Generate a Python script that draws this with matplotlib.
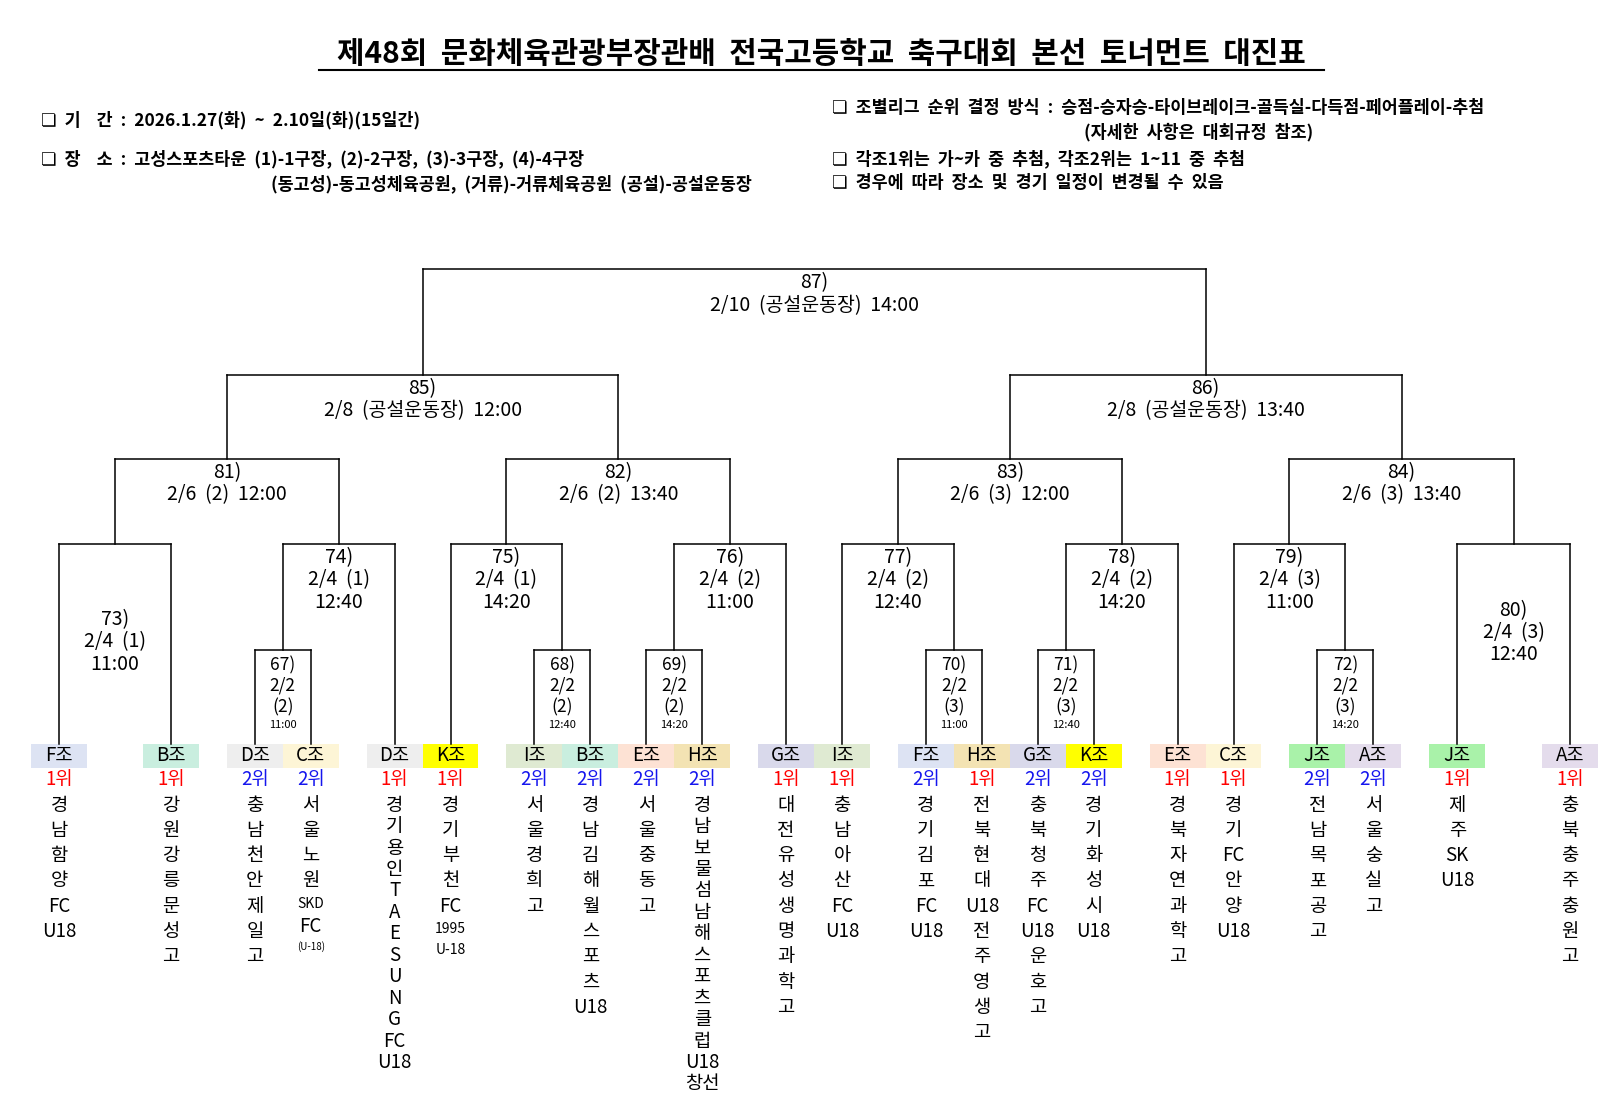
import matplotlib
matplotlib.use("Agg")
import matplotlib.pyplot as plt
from matplotlib.patches import Rectangle

plt.rcParams['font.family'] = ['Noto Sans CJK KR', 'DejaVu Sans']

title = "제48회  문화체육관광부장관배  전국고등학교  축구대회  본선  토너먼트  대진표"
info_left = ["❏  기    간  :  2026.1.27(화)  ~  2.10일(화)(15일간)",
             "❏  장    소  :  고성스포츠타운  (1)-1구장,  (2)-2구장,  (3)-3구장,  (4)-4구장",
             "(동고성)-동고성체육공원,  (거류)-거류체육공원  (공설)-공설운동장"]
info_right = ["❏  조별리그  순위  결정  방식  :  승점-승자승-타이브레이크-골득실-다득점-페어플레이-추첨",
              "(자세한  사항은  대회규정  참조)",
              "❏  각조1위는  가~카  중  추첨,  각조2위는  1~11  중  추첨",
              "❏  경우에  따라  장소  및  경기  일정이  변경될  수  있음"]

groups = ['F','B','D','C','D','K','I','B','E','H','G','I','F','H','G','K','E','C','J','A','J','A']
ranks = [1,1,2,2,1,1,2,2,2,2,1,1,2,1,2,2,1,1,2,2,1,1]
names = [
    ['경','남','함','양','FC','U18'],
    ['강','원','강','릉','문','성','고'],
    ['충','남','천','안','제','일','고'],
    ['서','울','노','원','SKD','FC','(U-18)'],
    ['경','기','용','인','T','A','E','S','U','N','G','FC','U18'],
    ['경','기','부','천','FC','1995','U-18'],
    ['서','울','경','희','고'],
    ['경','남','김','해','월','스','포','츠','U18'],
    ['서','울','중','동','고'],
    ['경','남','보','물','섬','남','해','스','포','츠','클','럽','U18','창선'],
    ['대','전','유','성','생','명','과','학','고'],
    ['충','남','아','산','FC','U18'],
    ['경','기','김','포','FC','U18'],
    ['전','북','현','대','U18','전','주','영','생','고'],
    ['충','북','청','주','FC','U18','운','호','고'],
    ['경','기','화','성','시','U18'],
    ['경','북','자','연','과','학','고'],
    ['경','기','FC','안','양','U18'],
    ['전','남','목','포','공','고'],
    ['서','울','숭','실','고'],
    ['제','주','SK','U18'],
    ['충','북','충','주','충','원','고'],
]
group_colors = {'F':'#dde3f3','B':'#c9eedf','D':'#eeeeee','C':'#fdf5d6','K':'#ffff00',
                'I':'#dfead2','E':'#fde2d4','H':'#f3e3b3','G':'#d9d9eb','J':'#a9f2a9','A':'#e4dcec'}

match_children = {
    67: [('L',2),('L',3)], 68: [('L',6),('L',7)], 69: [('L',8),('L',9)],
    70: [('L',12),('L',13)], 71: [('L',14),('L',15)], 72: [('L',18),('L',19)],
    73: [('L',0),('L',1)], 74: [('M',67),('L',4)], 75: [('L',5),('M',68)],
    76: [('M',69),('L',10)], 77: [('L',11),('M',70)], 78: [('M',71),('L',16)],
    79: [('L',17),('M',72)], 80: [('L',20),('L',21)],
    81: [('M',73),('M',74)], 82: [('M',75),('M',76)], 83: [('M',77),('M',78)], 84: [('M',79),('M',80)],
    85: [('M',81),('M',82)], 86: [('M',83),('M',84)], 87: [('M',85),('M',86)],
}
match_info = {
    67: ['2/2','(2)','11:00'], 68: ['2/2','(2)','12:40'], 69: ['2/2','(2)','14:20'],
    70: ['2/2','(3)','11:00'], 71: ['2/2','(3)','12:40'], 72: ['2/2','(3)','14:20'],
    73: ['2/4  (1)','11:00'], 74: ['2/4  (1)','12:40'], 75: ['2/4  (1)','14:20'], 76: ['2/4  (2)','11:00'],
    77: ['2/4  (2)','12:40'], 78: ['2/4  (2)','14:20'], 79: ['2/4  (3)','11:00'], 80: ['2/4  (3)','12:40'],
    81: ['2/6  (2)  12:00'], 82: ['2/6  (2)  13:40'], 83: ['2/6  (3)  12:00'], 84: ['2/6  (3)  13:40'],
    85: ['2/8  (공설운동장)  12:00'], 86: ['2/8  (공설운동장)  13:40'],
    87: ['2/10  (공설운동장)  14:00'],
}

W, H = 1568, 1077
leaf_x = [57,165,246,300,381,435,516,570,624,678,759,813,894,948,1002,1056,1137,1191,1272,1326,1407,1516]
def level_top(m):
    if m <= 72: return 627
    if m <= 80: return 525
    if m <= 84: return 443
    if m <= 86: return 362
    return 260
BOX_TOP = 718

fig = plt.figure(figsize=(16.24, 11.16), dpi=100)
ax = fig.add_axes([0, 0, 1, 1])
ax.set_xlim(0, W); ax.set_ylim(H, 0); ax.axis('off')

ax.text(793, 52, title, ha='center', va='center', fontsize=21.5, fontweight='bold')
ax.plot([308, 1278], [68, 68], color='black', lw=1.5)

fs_info = 12.5
ax.text(40, 116, info_left[0], ha='left', va='center', fontsize=fs_info, fontweight='bold')
ax.text(40, 153, info_left[1], ha='left', va='center', fontsize=fs_info, fontweight='bold')
ax.text(262, 177, info_left[2], ha='left', va='center', fontsize=fs_info, fontweight='bold')
ax.text(803, 104, info_right[0], ha='left', va='center', fontsize=fs_info, fontweight='bold')
ax.text(1047, 128, info_right[1], ha='left', va='center', fontsize=fs_info, fontweight='bold')
ax.text(803, 153, info_right[2], ha='left', va='center', fontsize=fs_info, fontweight='bold')
ax.text(803, 177, info_right[3], ha='left', va='center', fontsize=fs_info, fontweight='bold')

lw = 1.1
pos = {}
def node_x(c):
    kind, v = c
    return leaf_x[v] if kind == 'L' else pos[v]
for m in sorted(match_children):
    xs = [node_x(c) for c in match_children[m]]
    pos[m] = sum(xs) / 2
    top = level_top(m)
    ax.plot(xs, [top, top], color='black', lw=lw)
    for c, x in zip(match_children[m], xs):
        bottom = BOX_TOP if c[0] == 'L' else level_top(c[1])
        ax.plot([x, x], [top, bottom], color='black', lw=lw)
    lines = [f"{m})"] + match_info[m]
    cx = pos[m]
    if m <= 72:
        ys = [642, 662, 683, 700]
        for i, (t, y) in enumerate(zip(lines, ys)):
            ax.text(cx, y, t, ha='center', va='center', fontsize=8 if i == 3 else 12.5)
    else:
        if m in (73, 80):
            y0 = 598 if m == 73 else 589
        else:
            y0 = top + 13
        for i, t in enumerate(lines):
            ax.text(cx, y0 + 21.5 * i, t, ha='center', va='center', fontsize=14)

for i, x in enumerate(leaf_x):
    g = groups[i]
    ax.add_patch(Rectangle((x - 27, BOX_TOP), 54, 23, facecolor=group_colors[g], edgecolor='none'))
    ax.text(x, BOX_TOP + 11.5, f"{g}조", ha='center', va='center', fontsize=13.5, fontweight='medium')
    ax.text(x, 752, f"{ranks[i]}위", ha='center', va='center', fontsize=13.5, fontweight='medium',
            color='#ff0000' if ranks[i] == 1 else '#1515ee')
    toks = names[i]
    step = 20.7 if len(toks) > 12 else 24.4
    y = 777
    for t in toks:
        if t == '(U-18)':
            ax.text(x, y - 6, t, ha='center', va='center', fontsize=7)
            y += 16
        elif t in ('SKD', '1995', 'U-18'):
            ax.text(x, y - 2, t, ha='center', va='center', fontsize=10)
            y += 20
        else:
            ax.text(x, y, t, ha='center', va='center', fontsize=13.5, fontweight='medium')
            y += step

fig.savefig('out.png', dpi=100, facecolor='white')
